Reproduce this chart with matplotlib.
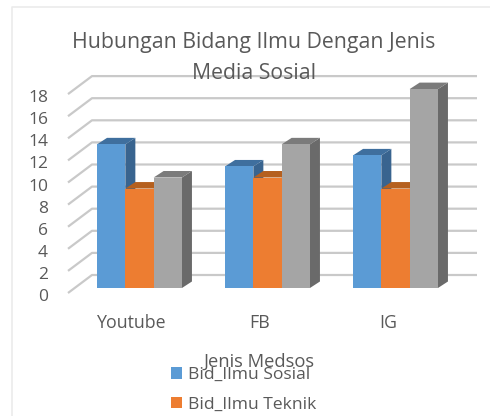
import numpy as np
import matplotlib
matplotlib.use("Agg")
import matplotlib.pyplot as plt
from matplotlib.patches import Polygon, Patch

plt.rcParams['font.family'] = ['Open Sans', 'DejaVu Sans']

categories = ['Youtube', 'FB', 'IG']
sosial = [13, 11, 12]
teknik = [9, 10, 9]
ketiga = [10, 13, 18]
y_ticks = [0, 2, 4, 6, 8, 10, 12, 14, 16, 18]
series = [sosial, teknik, ketiga]

front_colors = ['#5B9BD5', '#ED7D31', '#A5A5A5']
top_colors = ['#3F6F9E', '#B5601F', '#7B7B7B']
side_colors = ['#39648F', '#A8561C', '#6A6A6A']
text_color = '#595959'
grid_color = '#C9C9C9'

# escala en pixeles de la imagen
W, H = 490, 416
px_cat = 128.0
px_val = 11.05
x0_px = 139.5
y0_px = 288.0
bar_w = 28.3 / px_cat
dep_x = 10 / px_cat
dep_y = 6.5 / px_val

fig = plt.figure(figsize=(W / 100, H / 100), dpi=100)
ax = fig.add_axes([0, 0, 1, 1])
ax.set_xlim((0 - x0_px) / px_cat, (W - x0_px) / px_cat)
ax.set_ylim((y0_px - H) / px_val, y0_px / px_val)
ax.axis('off')

def px_x(p):
    return (p - x0_px) / px_cat

def px_y(p):
    return (y0_px - p) / px_val

# marco de la imagen
ax.plot([px_x(12), px_x(12), px_x(490)], [px_y(416), px_y(7), px_y(7)], color='#EBEBEB', lw=1.2, zorder=0)

# lineas de la grilla: diagonal + pared del fondo
for v in y_ticks:
    ax.plot([px_x(68), px_x(92), px_x(477)],
            [v + px_y(293), v + px_y(275), v + px_y(275)],
            color=grid_color, lw=1.6, zorder=1, solid_capstyle='butt')
    ax.text(px_x(48), v + px_y(297), str(v), ha='right', va='center', fontsize=12.5, color=text_color, zorder=5)

# barras con falso 3D
pos = np.arange(len(categories))
for s, vals in enumerate(series):
    left = pos + (s - 1.5) * bar_w
    z = 2 + s
    for x, v in zip(left, vals):
        ax.add_patch(Polygon([(x + bar_w, 0), (x + bar_w + dep_x, dep_y), (x + bar_w + dep_x, v + dep_y), (x + bar_w, v)],
                             facecolor=side_colors[s], edgecolor='none', zorder=z))
        ax.add_patch(Polygon([(x, v), (x + dep_x, v + dep_y), (x + bar_w + dep_x, v + dep_y), (x + bar_w, v)],
                             facecolor=top_colors[s], edgecolor='none', zorder=z))
    ax.bar(left, vals, width=bar_w, align='edge', color=front_colors[s], zorder=z + 0.5)

for i, c in enumerate(categories):
    ax.text(i - 0.06, px_y(323), c, ha='center', va='center', fontsize=12.8, color=text_color, zorder=5)

ax.text(px_x(259), px_y(362), 'Jenis Medsos', ha='center', va='center', fontsize=13.2, color=text_color, zorder=6)

ax.text(px_x(253.5), px_y(42), 'Hubungan Bidang Ilmu Dengan Jenis', ha='center', va='center',
        fontsize=15.3, color=text_color, zorder=6)
ax.text(px_x(254), px_y(73), 'Media Sosial', ha='center', va='center',
        fontsize=15.3, color=text_color, zorder=6)

handles = [Patch(facecolor=front_colors[0], label='Bid_Ilmu Sosial'),
           Patch(facecolor=front_colors[1], label='Bid_Ilmu Teknik')]
ax.legend(handles=handles, loc='upper left', bbox_to_anchor=(171 / W, 1 - 367 / H), frameon=False,
          fontsize=12.6, labelcolor=text_color, handlelength=0.63, handleheight=0.63, handletextpad=0.35,
          labelspacing=0.77, borderpad=0, borderaxespad=0)

fig.savefig('out.png', dpi=100)
